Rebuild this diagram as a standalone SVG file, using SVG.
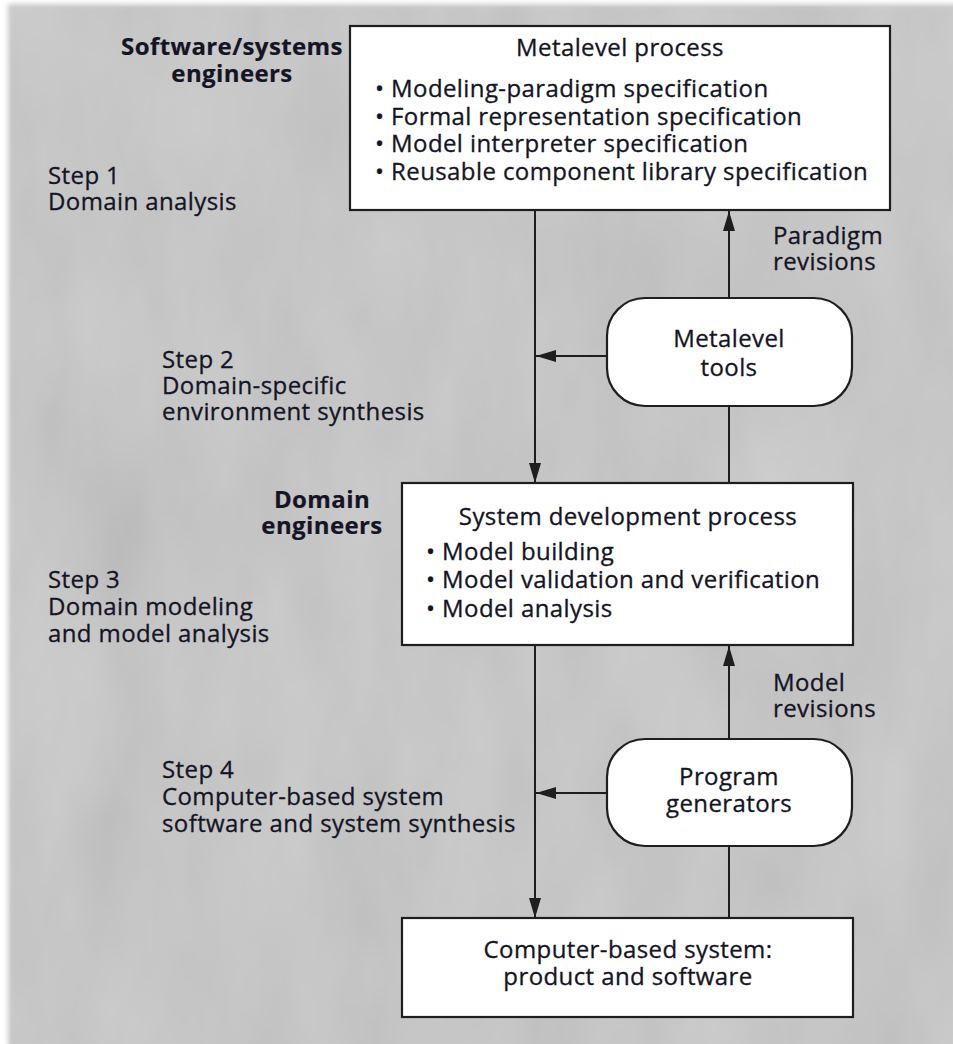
<svg xmlns="http://www.w3.org/2000/svg" width="953" height="1044" viewBox="0 0 953 1044">
  <style>
    .t { font-family: "Open Sans", "Noto Sans", sans-serif; font-size: 24px; letter-spacing: 0.4px; fill: #141424; stroke: #141424; stroke-width: 0.3px; }
    .b { font-weight: bold; stroke-width: 0.2px; }
    .c { text-anchor: middle; }
    .box { fill: #ffffff; stroke: #1e1e1e; stroke-width: 2.2; }
    .wire { fill: none; stroke: #1e1e1e; stroke-width: 2; }
  </style>
  <defs>
    <marker id="arrow" viewBox="0 0 20 12" refX="20" refY="6" markerWidth="20" markerHeight="12" markerUnits="userSpaceOnUse" orient="auto">
      <path d="M0,0 L20,6 L0,12 z" fill="#1e1e1e"/>
    </marker>
    <filter id="soft" x="-5%" y="-5%" width="110%" height="110%">
      <feGaussianBlur stdDeviation="2.5"/>
    </filter>
    <filter id="grain" x="0" y="0" width="100%" height="100%">
      <feTurbulence type="fractalNoise" baseFrequency="0.012 0.005" numOctaves="4" seed="7" result="n"/>
      <feColorMatrix in="n" type="matrix" values="0.33 0.33 0.33 0 0  0.33 0.33 0.33 0 0  0.33 0.33 0.33 0 0  0 0 0 0 1"/>
    </filter>
  </defs>

  <!-- paper and mottled grey panel -->
  <rect x="0" y="0" width="953" height="1044" fill="#ffffff"/>
  <g filter="url(#soft)">
    <rect x="8" y="4" width="950" height="1045" fill="#c9c9c9"/>
  </g>
  <rect x="10" y="6" width="943" height="1038" filter="url(#grain)" opacity="0.18"/>

  <!-- connectors -->
  <g id="connectors" class="wire">
    <path d="M535,210 V483" marker-end="url(#arrow)"/>
    <path d="M607,356 H536" marker-end="url(#arrow)"/>
    <path d="M729,483 V406"/>
    <path d="M729,298 V211" marker-end="url(#arrow)"/>
    <path d="M535,645 V918" marker-end="url(#arrow)"/>
    <path d="M607,793 H536" marker-end="url(#arrow)"/>
    <path d="M729,918 V846"/>
    <path d="M729,739 V646" marker-end="url(#arrow)"/>
  </g>

  <!-- side labels -->
  <g id="roles" class="t b c">
    <text x="232" y="55">Software/systems</text>
    <text x="232" y="82">engineers</text>
    <text x="322" y="508">Domain</text>
    <text x="322" y="534">engineers</text>
  </g>
  <g id="steps" class="t">
    <text x="48" y="184">Step 1</text>
    <text x="48" y="210">Domain analysis</text>
    <text x="162" y="368">Step 2</text>
    <text x="162" y="394">Domain-specific</text>
    <text x="162" y="420">environment synthesis</text>
    <text x="48" y="588">Step 3</text>
    <text x="48" y="615">Domain modeling</text>
    <text x="48" y="642">and model analysis</text>
    <text x="162" y="778">Step 4</text>
    <text x="162" y="805">Computer-based system</text>
    <text x="162" y="832">software and system synthesis</text>
  </g>
  <g id="revisions" class="t">
    <text x="773" y="244">Paradigm</text>
    <text x="773" y="270">revisions</text>
    <text x="773" y="691">Model</text>
    <text x="773" y="717">revisions</text>
  </g>

  <!-- nodes -->
  <g id="metalevel-process">
    <rect class="box" x="350" y="26" width="540" height="184"/>
    <text class="t c" x="620" y="56">Metalevel process</text>
    <text class="t" x="375" y="97">• Modeling-paradigm specification</text>
    <text class="t" x="375" y="125">• Formal representation specification</text>
    <text class="t" x="375" y="152">• Model interpreter specification</text>
    <text class="t" x="375" y="180">• Reusable component library specification</text>
  </g>
  <g id="metalevel-tools">
    <rect class="box" x="607" y="298" width="245" height="108" rx="38" ry="38"/>
    <text class="t c" x="729" y="347">Metalevel</text>
    <text class="t c" x="729" y="376">tools</text>
  </g>
  <g id="system-development-process">
    <rect class="box" x="402" y="483" width="451" height="162"/>
    <text class="t c" x="628" y="525">System development process</text>
    <text class="t" x="426" y="560">• Model building</text>
    <text class="t" x="426" y="588">• Model validation and verification</text>
    <text class="t" x="426" y="617">• Model analysis</text>
  </g>
  <g id="program-generators">
    <rect class="box" x="607" y="739" width="245" height="107" rx="38" ry="38"/>
    <text class="t c" x="729" y="785">Program</text>
    <text class="t c" x="729" y="812">generators</text>
  </g>
  <g id="computer-based-system">
    <rect class="box" x="402" y="918" width="451" height="99"/>
    <text class="t c" x="628" y="958">Computer-based system:</text>
    <text class="t c" x="628" y="985">product and software</text>
  </g>
</svg>
